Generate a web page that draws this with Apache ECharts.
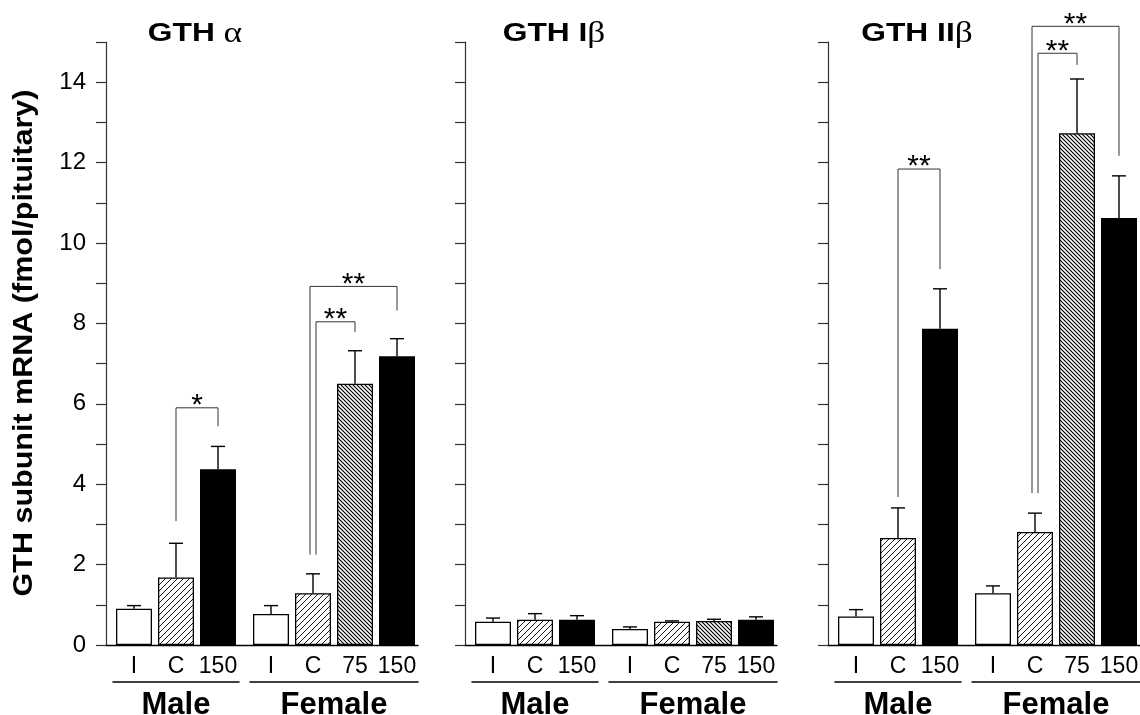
<!DOCTYPE html>
<html><head><meta charset="utf-8">
<script src="https://cdn.jsdelivr.net/npm/echarts/dist/echarts.min.js"></script>
<style>html,body{margin:0;padding:0;background:#fff}#c{width:1140px;height:715px}</style>
</head><body><div id="c"></div>
<script>
// ---------------- data ----------------
const maleCats = ['I', 'C', '150'];
const femaleCats = ['I', 'C', '75', '150'];
const groupNames = ['Male', 'Female'];
const panelTitleMain = ['GTH ', 'GTH I', 'GTH II'];
const panelTitleGreek = ['α', 'β', 'β'];
const yAxisTitle = 'GTH subunit mRNA (fmol/pituitary)';
const yMin = 0, yMax = 15, yStep = 1;

// GTH alpha
const alphaMale = [0.90, 1.68, 4.37];
const alphaMaleSE = [0.08, 0.85, 0.57];
const alphaFemale = [0.77, 1.29, 6.50, 7.18];
const alphaFemaleSE = [0.21, 0.48, 0.82, 0.44];
// GTH I beta
const ibMale = [0.58, 0.63, 0.63];
const ibMaleSE = [0.09, 0.15, 0.10];
const ibFemale = [0.40, 0.58, 0.60, 0.63];
const ibFemaleSE = [0.05, 0.02, 0.04, 0.07];
// GTH II beta
const iibMale = [0.71, 2.66, 7.87];
const iibMaleSE = [0.17, 0.75, 0.99];
const iibFemale = [1.29, 2.81, 12.73, 10.62];
const iibFemaleSE = [0.18, 0.47, 1.35, 1.05];

// significance brackets: [fromIndex, toIndex, bracketLevel, leftLegEnd, rightLegEnd, stars]
const alphaMaleSig = [[1, 2, 5.90, 3.08, 5.44, '*']];
const alphaFemaleSig = [[1, 2, 8.04, 2.25, 7.79, '**'], [1, 3, 8.92, 2.25, 8.32, '**']];
const ibMaleSig = [];
const ibFemaleSig = [];
const iibMaleSig = [[1, 2, 11.84, 3.68, 9.35, '**']];
const iibFemaleSig = [[1, 2, 14.72, 3.78, 14.43, '**'], [1, 3, 15.39, 3.78, 12.17, '**']];

// ---------------- patterns ----------------
function hatchSlash() {
  const n = 6, c = document.createElement('canvas');
  c.width = c.height = n;
  const g = c.getContext('2d');
  g.fillStyle = '#fff'; g.fillRect(0, 0, n, n);
  g.strokeStyle = '#000'; g.lineWidth = 0.9;
  g.beginPath();
  g.moveTo(0, n); g.lineTo(n, 0);
  g.moveTo(-n, n); g.lineTo(0, 0);
  g.moveTo(n, n); g.lineTo(2 * n, 0);
  g.stroke();
  return c;
}
function hatchDense() {
  const n = 4, c = document.createElement('canvas');
  c.width = c.height = n;
  const g = c.getContext('2d');
  g.fillStyle = '#b4b4b4'; g.fillRect(0, 0, n, n);
  g.lineWidth = 1.0;
  g.strokeStyle = '#000';
  g.beginPath();
  g.moveTo(0, 0); g.lineTo(n, n);
  g.moveTo(n, 0); g.lineTo(2 * n, n);
  g.moveTo(-n, 0); g.lineTo(0, n);
  g.stroke();
  g.strokeStyle = '#fff'; g.lineWidth = 0.9;
  g.beginPath();
  g.moveTo(n / 2, 0); g.lineTo(n + n / 2, n);
  g.moveTo(-n / 2, 0); g.lineTo(n / 2, n);
  g.stroke();
  return c;
}
const patSlash = { image: hatchSlash(), repeat: 'repeat' };
const patDense = { image: hatchDense(), repeat: 'repeat' };
function fillFor(cat) {
  if (cat === 'I') return '#fff';
  if (cat === 'C') return patSlash;
  if (cat === '75') return patDense;
  return '#000';
}

// ---------------- layout ----------------
const AXIS_X = [106, 465, 828];
const TOP = 42, BOTTOM = 70, FONT = 'Liberation Sans, Arial, sans-serif';
const panels = [
  { male: [alphaMale, alphaMaleSE, alphaMaleSig], female: [alphaFemale, alphaFemaleSE, alphaFemaleSig] },
  { male: [ibMale, ibMaleSE, ibMaleSig], female: [ibFemale, ibFemaleSE, ibFemaleSig] },
  { male: [iibMale, iibMaleSE, iibMaleSig], female: [iibFemale, iibFemaleSE, iibFemaleSig] }
];

const grid = [], xAxis = [], yAxis = [], series = [], graphic = [];

function errRender(params, api) {
  const x = api.value(0), m = api.value(1), e = api.value(2);
  const p0 = api.coord([x, m]), p1 = api.coord([x, m + e]);
  const h = 7;
  return { type: 'group', children: [
    { type: 'line', shape: { x1: p0[0], y1: p0[1], x2: p1[0], y2: p1[1] }, style: { stroke: '#000', lineWidth: 1.4 } },
    { type: 'line', shape: { x1: p1[0] - h, y1: p1[1], x2: p1[0] + h, y2: p1[1] }, style: { stroke: '#000', lineWidth: 1.4 } }
  ] };
}
function makeSigRender(list) {
  return function (params, api) {
    const b = list[params.dataIndex];
    const shared = list.filter(o => o[0] === b[0]);
    let shift = 0;
    if (shared.length > 1) {
      const maxLvl = Math.max(...shared.map(o => o[2]));
      shift = b[2] === maxLvl ? -3 : 3;
    }
    const pa = api.coord([b[0], b[2]]), pb = api.coord([b[1], b[2]]);
    const la = api.coord([b[0], b[3]]), lb = api.coord([b[1], b[4]]);
    const xa = pa[0] + shift;
    return { type: 'group', children: [
      { type: 'polyline', shape: { points: [[xa, la[1]], [xa, pa[1]], [pb[0], pa[1]], [pb[0], lb[1]]] },
        style: { stroke: '#333', lineWidth: 1, fill: null } },
      { type: 'text', x: (xa + pb[0]) / 2, y: pa[1] + 13,
        style: { text: b[5], font: '30px ' + FONT, fill: '#000', align: 'center', verticalAlign: 'bottom' } }
    ] };
  };
}

panels.forEach((pn, p) => {
  const A = AXIS_X[p];
  // frame grid (axis + baseline)
  const gFrame = grid.length;
  grid.push({ left: A, top: TOP, width: 312, bottom: BOTTOM, outerBoundsMode: 'none', containLabel: false });
  xAxis.push({ gridIndex: gFrame, type: 'category', data: [''], axisLine: { lineStyle: { color: '#000', width: 1.3 } },
    axisTick: { show: false }, axisLabel: { show: false } });
  yAxis.push({ gridIndex: gFrame, type: 'value', min: yMin, max: yMax, interval: yStep, splitLine: { show: false },
    axisLine: { show: true, lineStyle: { color: '#333', width: 1.2 } },
    axisTick: { show: true, length: 10, lineStyle: { color: '#333', width: 1.2 } },
    axisLabel: { show: p === 0, margin: 20, fontSize: 24, color: '#000', fontFamily: FONT,
      formatter: v => (v % 2 === 0 ? String(v) : '') } });
  series.push({ type: 'bar', xAxisIndex: xAxis.length - 1, yAxisIndex: yAxis.length - 1, data: [], silent: true });

  [['male', maleCats, 7, 126], ['female', femaleCats, 144, 168]].forEach(([key, cats, off, w], gi) => {
    const [vals, se, sig] = pn[key];
    const gIdx = grid.length;
    grid.push({ left: A + off, top: TOP, width: w, bottom: BOTTOM, outerBoundsMode: 'none', containLabel: false });
    const xi = xAxis.length;
    xAxis.push({ gridIndex: gIdx, type: 'category', data: cats, axisLine: { show: false }, axisTick: { show: false },
      axisLabel: { interval: 0, margin: 10, fontSize: 23, color: '#000', fontFamily: FONT } });
    xAxis.push({ gridIndex: gIdx, type: 'category', data: cats, position: 'bottom', offset: 37,
      axisLine: { show: true, lineStyle: { color: '#000', width: 1.5 } }, axisTick: { show: false }, axisLabel: { show: false },
      name: groupNames[gi], nameLocation: 'middle', nameGap: 8,
      nameTextStyle: { fontSize: 31, fontWeight: 'bold', color: '#000', fontFamily: FONT, verticalAlign: 'top' } });
    const yi = yAxis.length;
    yAxis.push({ gridIndex: gIdx, type: 'value', min: yMin, max: yMax, interval: yStep, show: false });
    series.push({ type: 'bar', xAxisIndex: xi, yAxisIndex: yi, barWidth: 36,
      data: vals.map((v, i) => ({ value: v, itemStyle: { color: fillFor(cats[i]) } })),
      itemStyle: { borderColor: '#000', borderWidth: 1.3 } });
    series.push({ type: 'custom', xAxisIndex: xi, yAxisIndex: yi, renderItem: errRender, clip: false,
      encode: { x: 0, y: 1 }, data: vals.map((v, i) => [i, v, se[i]]), z: 3 });
    if (sig.length) {
      series.push({ type: 'custom', xAxisIndex: xi, yAxisIndex: yi, renderItem: makeSigRender(sig), clip: false,
        encode: { x: 0, y: 2 }, data: sig.map(b => [b[0], b[1], b[2]]), z: 4 });
    }
  });

  graphic.push({ type: 'text', x: A + 89, y: 34, scaleX: 1.22,
    style: { text: '{b|' + panelTitleMain[p] + '}{g|' + panelTitleGreek[p] + '}', align: 'center', verticalAlign: 'middle',
      rich: { b: { fontSize: 26, fontWeight: 'bold', fontFamily: FONT, fill: '#000', color: '#000' },
              g: { fontSize: 29, fontFamily: 'Liberation Serif, DejaVu Serif, serif', fill: '#000', color: '#000' } } } });
});

// rotated y-axis title
graphic.push({ type: 'text', x: 25, y: 343, rotation: Math.PI / 2, scaleX: 1.13,
  style: { text: yAxisTitle, font: 'bold 27px ' + FONT, fill: '#000', align: 'center', verticalAlign: 'middle' } });

const chart = echarts.init(document.getElementById('c'), null, { renderer: 'canvas' });
chart.setOption({ animation: false, backgroundColor: '#fff', grid, xAxis, yAxis, series, graphic });
</script>
</body></html>
